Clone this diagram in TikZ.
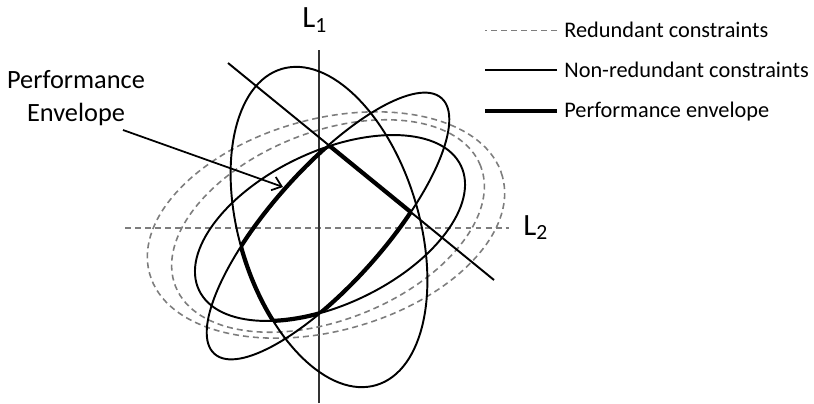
\documentclass[tikz,border=0pt]{standalone}
\usepackage{fontspec}
\setmainfont{Carlito}
\usetikzlibrary{arrows.meta}

\definecolor{dashgrey}{RGB}{125,125,125}
% constraint regions, in pixel units (y up)
\newcommand{\tallE}{(329,176) circle [x radius=90, y radius=165, rotate=16.7]}
\newcommand{\steepE}{(328,177) circle [x radius=171, y radius=57, rotate=48.4]}
\newcommand{\wideE}{(330,175) circle [x radius=145, y radius=76.5, rotate=25.4]}
\newcommand{\belowcut}{(0,526) -- (700,-45) -- (0,-45) -- cycle}

\begin{document}
\begin{tikzpicture}[x=0.02cm, y=0.02cm,
    constraint/.style={line width=1.1pt},
    redundant/.style={dashgrey, line width=0.9pt, dash pattern=on 3.4pt off 2.3pt},
    envelope/.style={line width=2.4pt},
    lbl/.style={font=\fontsize{12.7}{18.7}\selectfont, inner sep=0pt},
    axislbl/.style={font=\fontsize{17.6}{20}\selectfont, inner sep=0pt}]
    \useasboundingbox (0,0) rectangle (814,403);

    % axes
    \draw[redundant] (125,175) -- (509,175);
    \draw[line width=1.1pt, black!80] (319,0) -- (319,353);
    \node[axislbl, anchor=base west] (lone) at (302,375) {L\textsubscript{1}};
    \node[axislbl, anchor=base west] (ltwo) at (523,168) {L\textsubscript{2}};

    % redundant constraints
    \draw[redundant] (328,177) circle [x radius=164, y radius=94, rotate=21.6];
    \draw[redundant] (326,178) circle [x radius=183, y radius=106, rotate=15.4];

    % non-redundant constraints
    \draw[constraint] \tallE;
    \draw[constraint] \steepE;
    \draw[constraint] \wideE;
    \draw[constraint] (228,340) -- (494,123);

    % performance envelope
    \begin{scope}
        \clip \tallE; \clip \steepE; \clip \wideE;
        \draw[envelope] (228,340) -- (494,123);
    \end{scope}
    \begin{scope}
        \clip \belowcut; \clip \steepE; \clip \wideE;
        \draw[envelope] \tallE;
    \end{scope}
    \begin{scope}
        \clip \belowcut; \clip \tallE; \clip \wideE;
        \draw[envelope] \steepE;
    \end{scope}
    \begin{scope}
        \clip \belowcut; \clip \tallE; \clip \steepE;
        \draw[envelope] \wideE;
    \end{scope}

    \node[lbl, font=\fontsize{15}{18.7}\selectfont, align=center, anchor=north] (perflbl) at (76,333) {Performance\\Envelope};
    \coordinate (arrowtail) at (123,273);
    \coordinate (arrowtip) at (283,216);
    \draw[line width=1pt, -{Straight Barb[length=5pt, width=8pt]}] (arrowtail) -- (arrowtip);

    % legend
    \node[lbl, anchor=base west] (legred) at (564,365) {Redundant constraints};
    \node[lbl, anchor=base west] (legnon) at (564,325) {Non-redundant constraints};
    \node[lbl, anchor=base west] (legenv) at (564,286) {Performance envelope};
    \draw[redundant] ([xshift=-0.14cm]legred.west) -- ++(-72,0);
    \draw[constraint] ([xshift=-0.14cm]legnon.west) -- ++(-72,0);
    \draw[envelope] ([xshift=-0.14cm]legenv.west) -- ++(-72,0);
\end{tikzpicture}
\end{document}
